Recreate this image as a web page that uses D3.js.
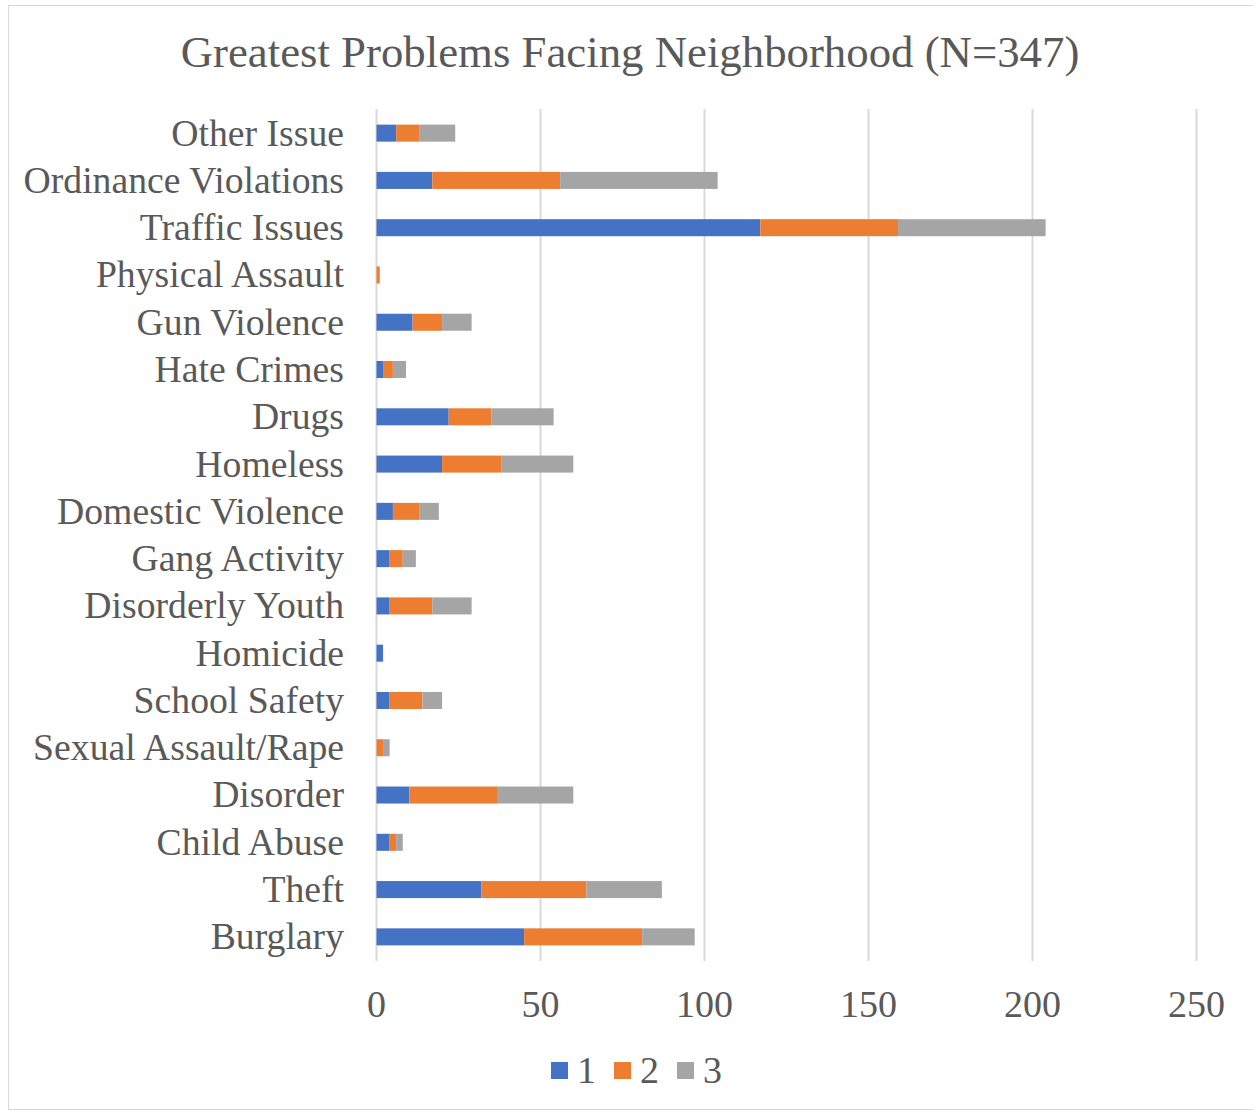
<!DOCTYPE html>
<html><head><meta charset="utf-8">
<script src="https://cdn.jsdelivr.net/npm/d3@7"></script>
<style>body{margin:0;background:#fff}svg{display:block}</style>
</head><body>
<svg id="c" width="1253" height="1112"></svg>
<script>
const categories = ["Other Issue","Ordinance Violations","Traffic Issues","Physical Assault","Gun Violence","Hate Crimes","Drugs","Homeless","Domestic Violence","Gang Activity","Disorderly Youth","Homicide","School Safety","Sexual Assault/Rape","Disorder","Child Abuse","Theft","Burglary"];
const series1 = [6,17,117,0,11,2,22,20,5,4,4,2,4,0,10,4,32,45];
const series2 = [7,39,42,1,9,3,13,18,8,4,13,0,10,2,27,2,32,36];
const series3 = [11,48,45,0,9,4,19,22,6,4,12,0,6,2,23,2,23,16];
const seriesNames = ["1","2","3"];
const colors = ["#4472c4","#ed7d31","#a5a5a5"];
const xTicks = [0,50,100,150,200,250];
const title = "Greatest Problems Facing Neighborhood (N=347)";

const svg = d3.select("#c");
const font = "'Liberation Serif','Times New Roman',serif";
const txt = "#595959";

svg.append("rect").attr("x",8.5).attr("y",5.5).attr("width",1250).attr("height",1104)
  .attr("fill","#fff").attr("stroke","#d9d9d9").attr("stroke-width",1);

const x = d3.scaleLinear().domain([0,250]).range([376.5,1196.5]);
const y = d3.scaleBand().domain(categories).range([109.5,960.5]).paddingInner(0.64).paddingOuter(0.32);

// gridlines
svg.append("g").selectAll("line").data(xTicks).join("line")
  .attr("x1",d=>x(d)).attr("x2",d=>x(d)).attr("y1",109).attr("y2",961)
  .attr("stroke","#d9d9d9").attr("stroke-width",2);

const data = categories.map((c,i)=>({cat:c,"1":series1[i],"2":series2[i],"3":series3[i]}));
const stack = d3.stack().keys(seriesNames)(data);

svg.append("g").selectAll("g").data(stack).join("g").attr("fill",(d,i)=>colors[i])
  .selectAll("rect").data(d=>d).join("rect")
  .attr("x",d=>x(d[0])).attr("width",d=>x(d[1])-x(d[0]))
  .attr("y",d=>y(d.data.cat)).attr("height",y.bandwidth());

// category labels
svg.append("g").selectAll("text").data(categories).join("text")
  .attr("x",344).attr("y",d=>y(d)+y.bandwidth()/2).attr("dy","0.33em")
  .attr("text-anchor","end").attr("font-family",font).attr("font-size",37.7).attr("fill",txt)
  .text(d=>d);

// x tick labels
svg.append("g").selectAll("text").data(xTicks).join("text")
  .attr("x",d=>x(d)).attr("y",1017).attr("text-anchor","middle")
  .attr("font-family",font).attr("font-size",38).attr("fill",txt).text(d=>d);

// title
svg.append("text").attr("x",630).attr("y",67).attr("text-anchor","middle")
  .attr("font-family",font).attr("font-size",44.8).attr("fill",txt).text(title);

// legend
const leg = svg.append("g");
const legX = [551,614,677];
seriesNames.forEach((s,i)=>{
  leg.append("rect").attr("x",legX[i]).attr("y",1062).attr("width",17).attr("height",17).attr("fill",colors[i]);
  leg.append("text").attr("x",legX[i]+26).attr("y",1083).attr("font-family",font).attr("font-size",38).attr("fill",txt).text(s);
});
</script>
</body></html>
